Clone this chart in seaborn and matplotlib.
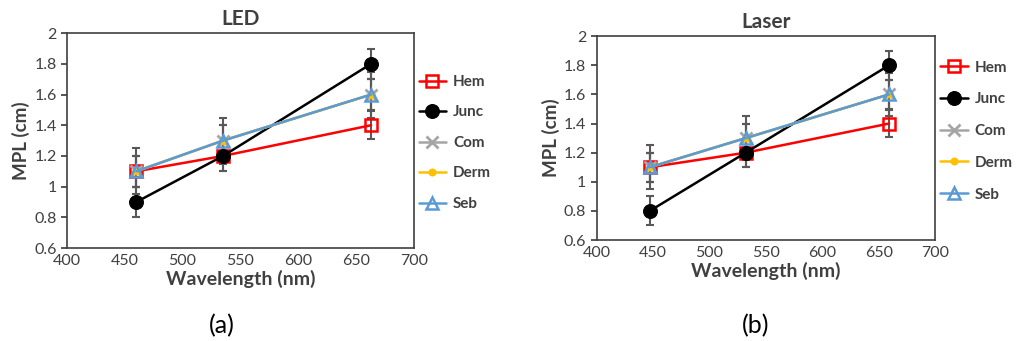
import matplotlib
matplotlib.use("Agg")
import matplotlib.pyplot as plt
import seaborn as sns
import numpy as np

sns.set_theme(style="white")
plt.rcParams['font.family'] = ['Lato', 'DejaVu Sans']

series = ["Hem", "Junc", "Com", "Derm", "Seb"]

led_wl = [460, 535, 663]
led_hem = [1.1, 1.2, 1.4]
led_junc = [0.9, 1.2, 1.8]
led_com = [1.1, 1.3, 1.6]
led_derm = [1.1, 1.3, 1.6]
led_seb = [1.1, 1.3, 1.6]

laser_wl = [447, 532, 659]
laser_hem = [1.1, 1.2, 1.4]
laser_junc = [0.8, 1.2, 1.8]
laser_com = [1.1, 1.3, 1.6]
laser_derm = [1.1, 1.3, 1.6]
laser_seb = [1.1, 1.3, 1.6]

err_hem = [0.1, 0.1, 0.09]
err_junc = [0.1, 0.1, 0.1]
err_com = [0.15, 0.15, 0.15]
err_derm = [0.1, 0.1, 0.1]
err_seb = [0.1, 0.1, 0.1]

colors = {"Hem": "#FF0000", "Junc": "#000000", "Com": "#A5A5A5", "Derm": "#FFC000", "Seb": "#5B9BD5"}
styles = {
    "Hem": dict(marker="s", markersize=9, markerfacecolor="none", markeredgewidth=1.8),
    "Junc": dict(marker="o", markersize=10),
    "Com": dict(marker="x", markersize=8, markeredgewidth=2),
    "Derm": dict(marker="o", markersize=5),
    "Seb": dict(marker="^", markersize=9, markerfacecolor="none", markeredgewidth=1.8),
}

fig = plt.figure(figsize=(10.2, 3.41), dpi=100)
ax1 = fig.add_axes([0.0657, 0.2727, 0.340, 0.630])
ax2 = fig.add_axes([0.585, 0.296, 0.332, 0.598])

txt = "#404040"
panels = [
    (ax1, led_wl, [led_hem, led_junc, led_com, led_derm, led_seb], "LED", "(a)", 0.217, (1.005, 0.82), 1.08),
    (ax2, laser_wl, [laser_hem, laser_junc, laser_com, laser_derm, laser_seb], "Laser", "(b)", 0.741, (1.005, 0.895), 1.16),
]
errs = [err_hem, err_junc, err_com, err_derm, err_seb]

for ax, wl, vals, title, tag, tagx, legpos, lsp in panels:
    for name, v, e in zip(series, vals, errs):
        ax.errorbar(wl, v, yerr=e, fmt="none", ecolor="#595959", elinewidth=1.5, capsize=3, capthick=1.5, zorder=2)
    for name, v in zip(series, vals):
        c = colors[name]
        sns.lineplot(x=wl, y=v, ax=ax, label=name, linewidth=1.8, zorder=3, color=c,
                     markeredgecolor=c, **styles[name])
    ax.set_xlim(400, 700)
    ax.set_ylim(0.6, 2.0)
    ax.set_xticks([400, 450, 500, 550, 600, 650, 700])
    ax.set_yticks([0.6, 0.8, 1.0, 1.2, 1.4, 1.6, 1.8, 2.0])
    ax.set_yticklabels(["0.6", "0.8", "1", "1.2", "1.4", "1.6", "1.8", "2"])
    ax.tick_params(axis="x", direction="in", length=4, color=txt, labelsize=11.5, labelcolor=txt, pad=4)
    ax.tick_params(axis="y", direction="out", length=4, color=txt, labelsize=11.5, labelcolor=txt, left=True)
    for s in ax.spines.values():
        s.set_color("#404040")
        s.set_linewidth(1.2)
    ax.set_xlabel("Wavelength (nm)", fontsize=14, fontweight="bold", color=txt, labelpad=2)
    ax.set_ylabel("MPL (cm)", fontsize=13.5, fontweight="bold", color=txt, labelpad=3)
    ax.set_title(title, fontsize=15, fontweight="bold", color=txt, pad=6)
    fig.text(tagx, 0.044, tag, ha="center", va="center", fontsize=18, color="#000000")
    leg = ax.legend(loc="upper left", bbox_to_anchor=legpos, frameon=False, fontsize=11,
                    handlelength=1.8, handletextpad=0.45, labelspacing=lsp, borderaxespad=0.0,
                    borderpad=0.2)
    for t in leg.get_texts():
        t.set_color(txt)
        t.set_fontweight("bold")

fig.savefig("out.png", dpi=100)
